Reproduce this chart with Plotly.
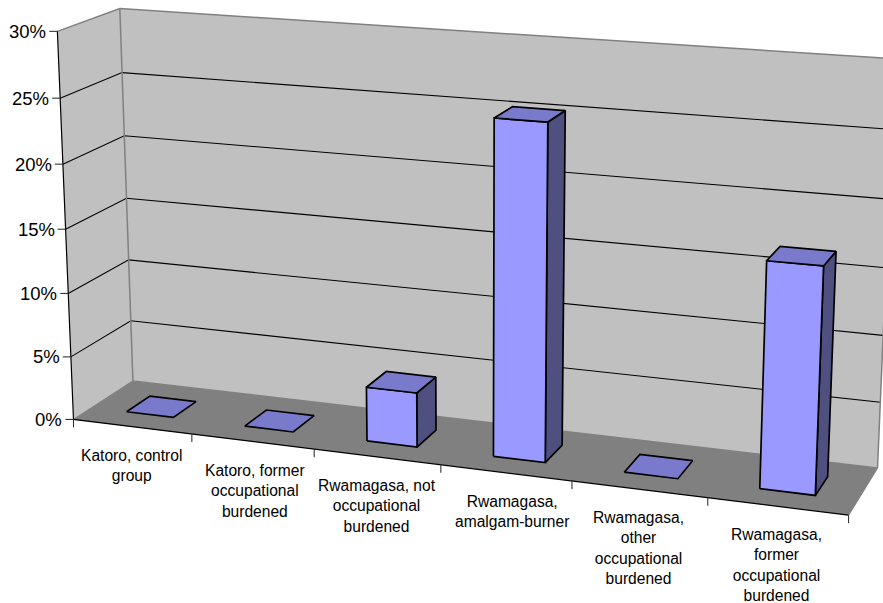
import numpy as np
import plotly.graph_objects as go

# Chart content
categories = [
    "Katoro, control<br>group",
    "Katoro, former<br>occupational<br>burdened",
    "Rwamagasa, not<br>occupational<br>burdened",
    "Rwamagasa,<br>amalgam-burner",
    "Rwamagasa,<br>other<br>occupational<br>burdened",
    "Rwamagasa,<br>former<br>occupational<br>burdened",
]
values = [0.0, 0.0, 4.2, 25.3, 0.0, 16.7]
value_ticks = [0, 5, 10, 15, 20, 25, 30]

# Perspective camera: (category, depth, percent, 1) -> page pixels
CAMERA = np.array([
    [115.1854, 65.37224, -0.6113383, 73.48885],
    [7.463232, -21.53027, -12.97668, 419.4337],
    [-0.01648273, 0.04470714, -0.001293273, 1.0],
])
BAR_GAP = 0.30     # share of a category left empty on each side of a bar
DEPTH_GAP = 0.30   # share of the floor depth left empty in front of and behind a bar
TOP = value_ticks[-1]
N = len(categories)

WALL, FLOOR, EDGE = "#C0C0C0", "#808080", "#808080"
FRONT, CAP, SIDE = "#9999FF", "#7A7ACC", "#4F4F80"
FONT = "Liberation Sans, Arial, sans-serif"
TICK_PX = 8


def pr(x, y, z):
    h = CAMERA @ np.array([x, y, z, 1.0])
    return h[0] / h[2], h[1] / h[2]


fig = go.Figure()


def poly(corners, fill=None, line=None, width=1.0):
    pts = [pr(*c) for c in corners]
    xs = [p[0] for p in pts]
    ys = [p[1] for p in pts]
    if fill:
        xs.append(xs[0])
        ys.append(ys[0])
    fig.add_trace(go.Scatter(
        x=xs, y=ys, mode="lines",
        fill="toself" if fill else None,
        fillcolor=fill,
        line=dict(color=line or fill, width=width if line else 0),
        hoverinfo="skip",
    ))


# Walls and floor
poly([(0, 0, 0), (0, 1, 0), (0, 1, TOP), (0, 0, TOP)], fill=WALL)
poly([(0, 1, 0), (N, 1, 0), (N, 1, TOP), (0, 1, TOP)], fill=WALL)
poly([(0, 0, 0), (N, 0, 0), (N, 1, 0), (0, 1, 0)], fill=FLOOR)

# Gridlines across both walls
for v in value_ticks[1:-1]:
    poly([(0, 0, v), (0, 1, v), (N, 1, v)], line="#000000", width=1.1)

# Wall outlines
poly([(0, 0, TOP), (0, 1, TOP), (N, 1, TOP), (N, 1, 0)], line=EDGE, width=1.5)
poly([(0, 1, TOP), (0, 1, 0), (N, 1, 0)], line=EDGE, width=1.5)
poly([(0, 0, 0), (0, 1, 0)], line=EDGE, width=1.2)
poly([(N, 0, 0), (N, 1, 0)], line=EDGE, width=1.2)

# Axis lines
poly([(0, 0, TOP), (0, 0, 0), (N, 0, 0)], line="#000000", width=1.2)


def segment(x0, y0, x1, y1):
    fig.add_trace(go.Scatter(x=[x0, x1], y=[y0, y1], mode="lines",
                             line=dict(color="#333333", width=1.1), hoverinfo="skip"))


# Tick marks and value labels
for v in value_ticks:
    px, py = pr(0, 0, v)
    segment(px - TICK_PX, py, px, py)
    fig.add_annotation(x=px - TICK_PX - 1, y=py, text=f"{v}%", showarrow=False,
                       xanchor="right", yanchor="middle", xref="x", yref="y",
                       font=dict(family=FONT, size=18.5, color="#000000"))
for k in range(N + 1):
    px, py = pr(k, 0, 0)
    segment(px, py, px, py + TICK_PX)

# Category labels below the front edge
label_dx = [-1, 2, 0, 6, -1, -1]
for k, text in enumerate(categories):
    px, py = pr(k + 0.5, 0, 0)
    fig.add_annotation(x=px + label_dx[k], y=py + 18, text=text, showarrow=False,
                       xanchor="center", yanchor="top", align="center",
                       xref="x", yref="y",
                       font=dict(family=FONT, size=15.6, color="#000000"))

# Bars
for k, v in enumerate(values):
    x0, x1 = k + BAR_GAP, k + 1 - BAR_GAP
    y0, y1 = DEPTH_GAP, 1 - DEPTH_GAP
    if v > 0:
        poly([(x1, y0, 0), (x1, y1, 0), (x1, y1, v), (x1, y0, v)],
             fill=SIDE, line="#000000", width=1.7)
        poly([(x0, y0, 0), (x1, y0, 0), (x1, y0, v), (x0, y0, v)],
             fill=FRONT, line="#000000", width=1.7)
    poly([(x0, y0, v), (x1, y0, v), (x1, y1, v), (x0, y1, v)],
         fill=CAP, line="#000000", width=1.7)

fig.update_layout(
    width=883, height=603,
    margin=dict(l=0, r=0, t=0, b=0, pad=0),
    showlegend=False,
    paper_bgcolor="white", plot_bgcolor="white",
    xaxis=dict(range=[0, 883], visible=False, fixedrange=True),
    yaxis=dict(range=[603, 0], visible=False, fixedrange=True),
)
fig.write_html("out.html", config=dict(displayModeBar=False))
